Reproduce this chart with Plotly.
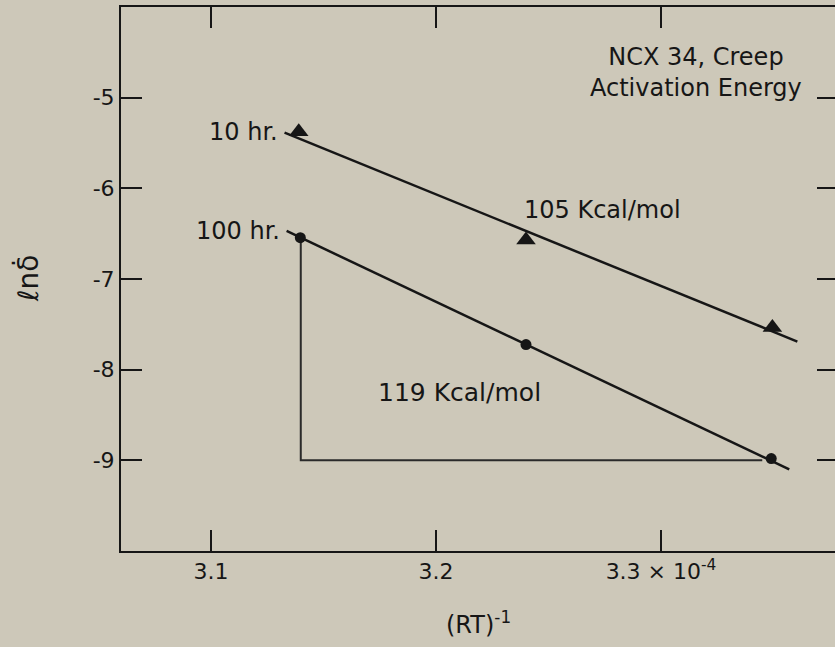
import plotly.graph_objects as go

# ---- data ----
inv_rt = [3.139, 3.240, 3.3495]          # (RT)^-1  x 10^-4
ln_rate_10hr = [-5.375, -6.57, -7.536]   # triangles
inv_rt_100 = [3.1397, 3.240, 3.349]
ln_rate_100hr = [-6.544, -7.723, -8.98]  # circles

fit10_x = [3.1327, 3.3606]
fit10_y = [-5.386, -7.690]
fit100_x = [3.1336, 3.357]
fit100_y = [-6.47, -9.10]

slope_tri_x = [3.1399, 3.1399, 3.345]
slope_tri_y = [-6.544, -9.0, -9.0]

x_tickvals = [3.1, 3.2, 3.3]
x_ticktext = ["3.1", "3.2", "3.3 \u00d7 10<sup>-4</sup>"]
y_tickvals = [-5, -6, -7, -8, -9]
y_ticktext = ["-5", "-6", "-7", "-8", "-9"]

BG = "#cdc8b9"
INK = "#161616"
FONT = "DejaVu Sans"

fig = go.Figure()
fig.add_trace(go.Scatter(x=fit10_x, y=fit10_y, mode="lines",
                         line=dict(color=INK, width=2.5), showlegend=False, hoverinfo="skip"))
fig.add_trace(go.Scatter(x=fit100_x, y=fit100_y, mode="lines",
                         line=dict(color=INK, width=2.5), showlegend=False, hoverinfo="skip"))
fig.add_trace(go.Scatter(x=slope_tri_x, y=slope_tri_y, mode="lines",
                         line=dict(color="#2a2a2a", width=2), showlegend=False, hoverinfo="skip"))
fig.add_trace(go.Scatter(x=inv_rt, y=ln_rate_10hr, mode="markers",
                         marker=dict(symbol="triangle-up", size=17, color=INK),
                         showlegend=False))
fig.add_trace(go.Scatter(x=inv_rt_100, y=ln_rate_100hr, mode="markers",
                         marker=dict(symbol="circle", size=11, color=INK),
                         showlegend=False))
# invisible trace to carry the right-hand tick axis
fig.add_trace(go.Scatter(x=[None], y=[None], yaxis="y2", showlegend=False, hoverinfo="skip"))

annos = [
    dict(x=inv_rt[0], y=ln_rate_10hr[0], text="10 hr.", xanchor="right", yanchor="middle",
         xshift=-19, showarrow=False, font=dict(size=24)),
    dict(x=inv_rt_100[0], y=-6.47, text="100 hr.", xanchor="right", yanchor="middle",
         xshift=-18, showarrow=False, font=dict(size=24)),
    dict(x=3.238, y=-6.24, text="105 Kcal/mol", xanchor="left", yanchor="middle",
         showarrow=False, font=dict(size=24)),
    dict(x=3.1735, y=-8.252, text="119 Kcal/mol", xanchor="left", yanchor="middle",
         showarrow=False, font=dict(size=25)),
    dict(x=3.3157, y=-4.719, text="NCX 34, Creep<br>Activation Energy", xanchor="center",
         yanchor="middle", align="center", showarrow=False, font=dict(size=24)),
    dict(xref="paper", yref="paper", x=0.5, y=0, yshift=-72, text="(RT)<sup>-1</sup>",
         xanchor="center", yanchor="middle", showarrow=False, font=dict(size=24)),
    dict(xref="paper", yref="paper", x=0, y=0.5, xshift=-93, text="\u2113n\u03b4\u0307",
         textangle=-90, xanchor="center", yanchor="middle", showarrow=False,
         font=dict(size=28)),
]

fig.update_layout(
    width=835, height=647,
    margin=dict(l=121, r=0, t=7, b=96),
    paper_bgcolor=BG, plot_bgcolor=BG,
    font=dict(family=FONT, color=INK, size=22),
    showlegend=False,
    annotations=annos,
    xaxis=dict(range=[3.06, 3.06 + 714 / 2250], tickvals=x_tickvals, ticktext=x_ticktext,
               showgrid=False, zeroline=False, showline=True, linecolor=INK, linewidth=2,
               mirror="ticks", ticks="inside", ticklen=21, tickwidth=2, tickcolor=INK,
               tickfont=dict(size=22)),
    yaxis=dict(range=[-10, -4], tickvals=y_tickvals, ticktext=y_ticktext,
               showgrid=False, zeroline=False, showline=True, linecolor=INK, linewidth=2,
               ticks="inside", ticklen=21, tickwidth=2, tickcolor=INK,
               tickfont=dict(size=22)),
    yaxis2=dict(range=[-10, -4], tickvals=y_tickvals, overlaying="y", side="right",
                anchor="x", showgrid=False, zeroline=False, showline=False,
                ticks="inside", ticklen=18, tickwidth=2, tickcolor=INK,
                showticklabels=False),
)

fig.write_html("out.html")
